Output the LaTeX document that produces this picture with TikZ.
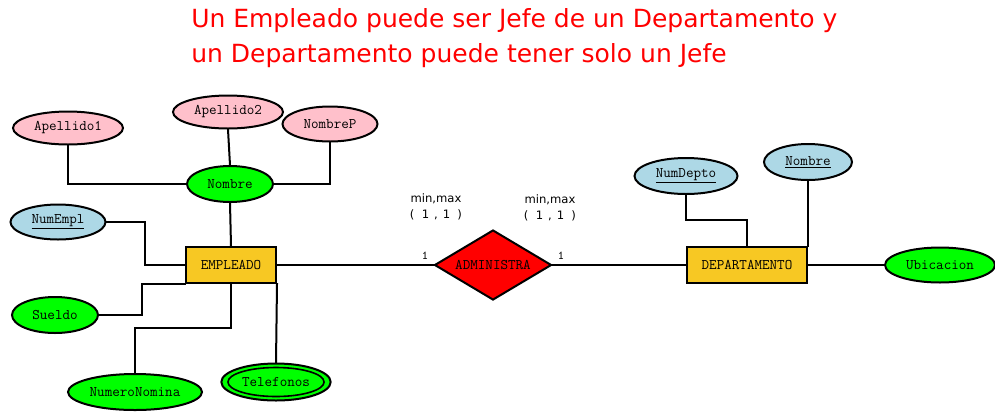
\documentclass[tikz,border=0pt]{standalone}
\usepackage{fontspec}
\setmainfont{DejaVu Sans}
\usetikzlibrary{shapes.geometric}
\definecolor{attpink}{HTML}{FFC0CB}
\definecolor{attgreen}{HTML}{00FF00}
\definecolor{attblue}{HTML}{ADD8E6}
\definecolor{entgold}{HTML}{F7C823}
\definecolor{relred}{HTML}{FF0000}
\tikzset{
  base/.style={draw=black, line width=1.5pt, inner sep=0pt, font=\ttfamily\fontsize{11}{13}\selectfont},
  attr/.style={base, ellipse},
  entity/.style={base, rectangle, fill=entgold},
  rel/.style={base, diamond, aspect=1.67, fill=relred},
  conn/.style={line width=1.5pt, line cap=rect},
  card/.style={font=\fontsize{8.7}{10}\selectfont, align=center, inner sep=0pt},
  onelab/.style={font=\ttfamily\fontsize{9}{10}\selectfont, inner sep=0pt},
  titletxt/.style={font=\fontsize{18.75}{22}\selectfont, text=relred, inner sep=0pt, anchor=base west}
}
\begin{document}
\begin{tikzpicture}[x=0.75pt,y=-0.75pt]
\useasboundingbox (0,0) rectangle (995,411);
% title
\node[titletxt] (t1) at (191,27) {Un Empleado puede ser Jefe de un Departamento y};
\node[titletxt] (t2) at (191,62) {un Departamento puede tener solo un Jefe};
% EMPLEADO side
\node[attr, fill=attpink, minimum width=82.5pt, minimum height=24.75pt] (ap1) at (68,128) {Apellido1};
\node[attr, fill=attpink, minimum width=82.5pt, minimum height=24.75pt] (ap2) at (228,112) {Apellido2};
\node[attr, fill=attpink, minimum width=71.25pt, minimum height=26.25pt] (np) at (330,124) {NombreP};
\node[attr, fill=attgreen, minimum width=64.5pt, minimum height=27pt] (nom) at (230,184) {Nombre};
\node[attr, fill=attblue, minimum width=71.25pt, minimum height=26.25pt] (ne) at (58,222) {\underline{NumEmpl}};
\node[entity, minimum width=67.5pt, minimum height=27pt] (emp) at (231,265) {EMPLEADO};
\node[attr, fill=attgreen, minimum width=64.5pt, minimum height=27pt] (su) at (55,315) {Sueldo};
\node[attr, fill=attgreen, minimum width=100.5pt, minimum height=27pt] (nn) at (135,392) {NumeroNomina};
\node[attr, fill=attgreen, minimum width=82pt, minimum height=27.75pt] (tel) at (276,382) {};
\node[attr, fill=attgreen, line width=1.2pt, minimum width=70pt, minimum height=21.75pt] (teli) at (276,382) {Telefonos};
% relationship
\node[rel, minimum width=87.75pt, minimum height=52.5pt] (adm) at (493,265) {ADMINISTRA};
% DEPARTAMENTO side
\node[entity, minimum width=90pt, minimum height=27pt] (dep) at (747,265) {DEPARTAMENTO};
\node[attr, fill=attblue, minimum width=77.25pt, minimum height=27pt] (nd) at (686,176) {\underline{NumDepto}};
\node[attr, fill=attblue, minimum width=66pt, minimum height=27pt] (n2) at (808,162) {\underline{Nombre}};
\node[attr, fill=attgreen, minimum width=82.5pt, minimum height=26.25pt] (ub) at (940,265) {Ubicacion};
% cardinality labels
\node[card] (c1) at (436,207) {min,max\\[2pt](\hspace{5.5pt}1\hspace{3.7pt},\hspace{3.7pt}1\hspace{5.5pt})};
\node[card] (c2) at (550,208) {min,max\\[2pt](\hspace{5.5pt}1\hspace{3.7pt},\hspace{3.7pt}1\hspace{5.5pt})};
\node[onelab] (o1) at (425,256) {1};
\node[onelab] (o2) at (561,256) {1};
% connectors
\coordinate (nek) at (145,222);
\coordinate (suk) at (142,315);
\coordinate (nnk) at (231,328);
\coordinate (ndk) at (747,220);
\draw[conn] (ap1.south) |- (nom.west);
\draw[conn] (ap2.south) -- (nom.north);
\draw[conn] (np.south) |- (nom.east);
\draw[conn] (nom.south) -- (emp.north);
\draw[conn] (ne.east) -- (nek) |- (emp.west);
\draw[conn] (su.east) -- (suk) |- (emp.south west);
\draw[conn] (nn.north) |- (nnk) -- (emp.south);
\draw[conn] (emp.south east) -- (tel.north);
\draw[conn] (emp.east) -- (adm.west);
\draw[conn] (adm.east) -- (dep.west);
\draw[conn] (nd.south) |- (ndk) -- (dep.north);
\draw[conn] (n2.south) -- (dep.north east);
\draw[conn] (dep.east) -- (ub.west);
\end{tikzpicture}
\end{document}
